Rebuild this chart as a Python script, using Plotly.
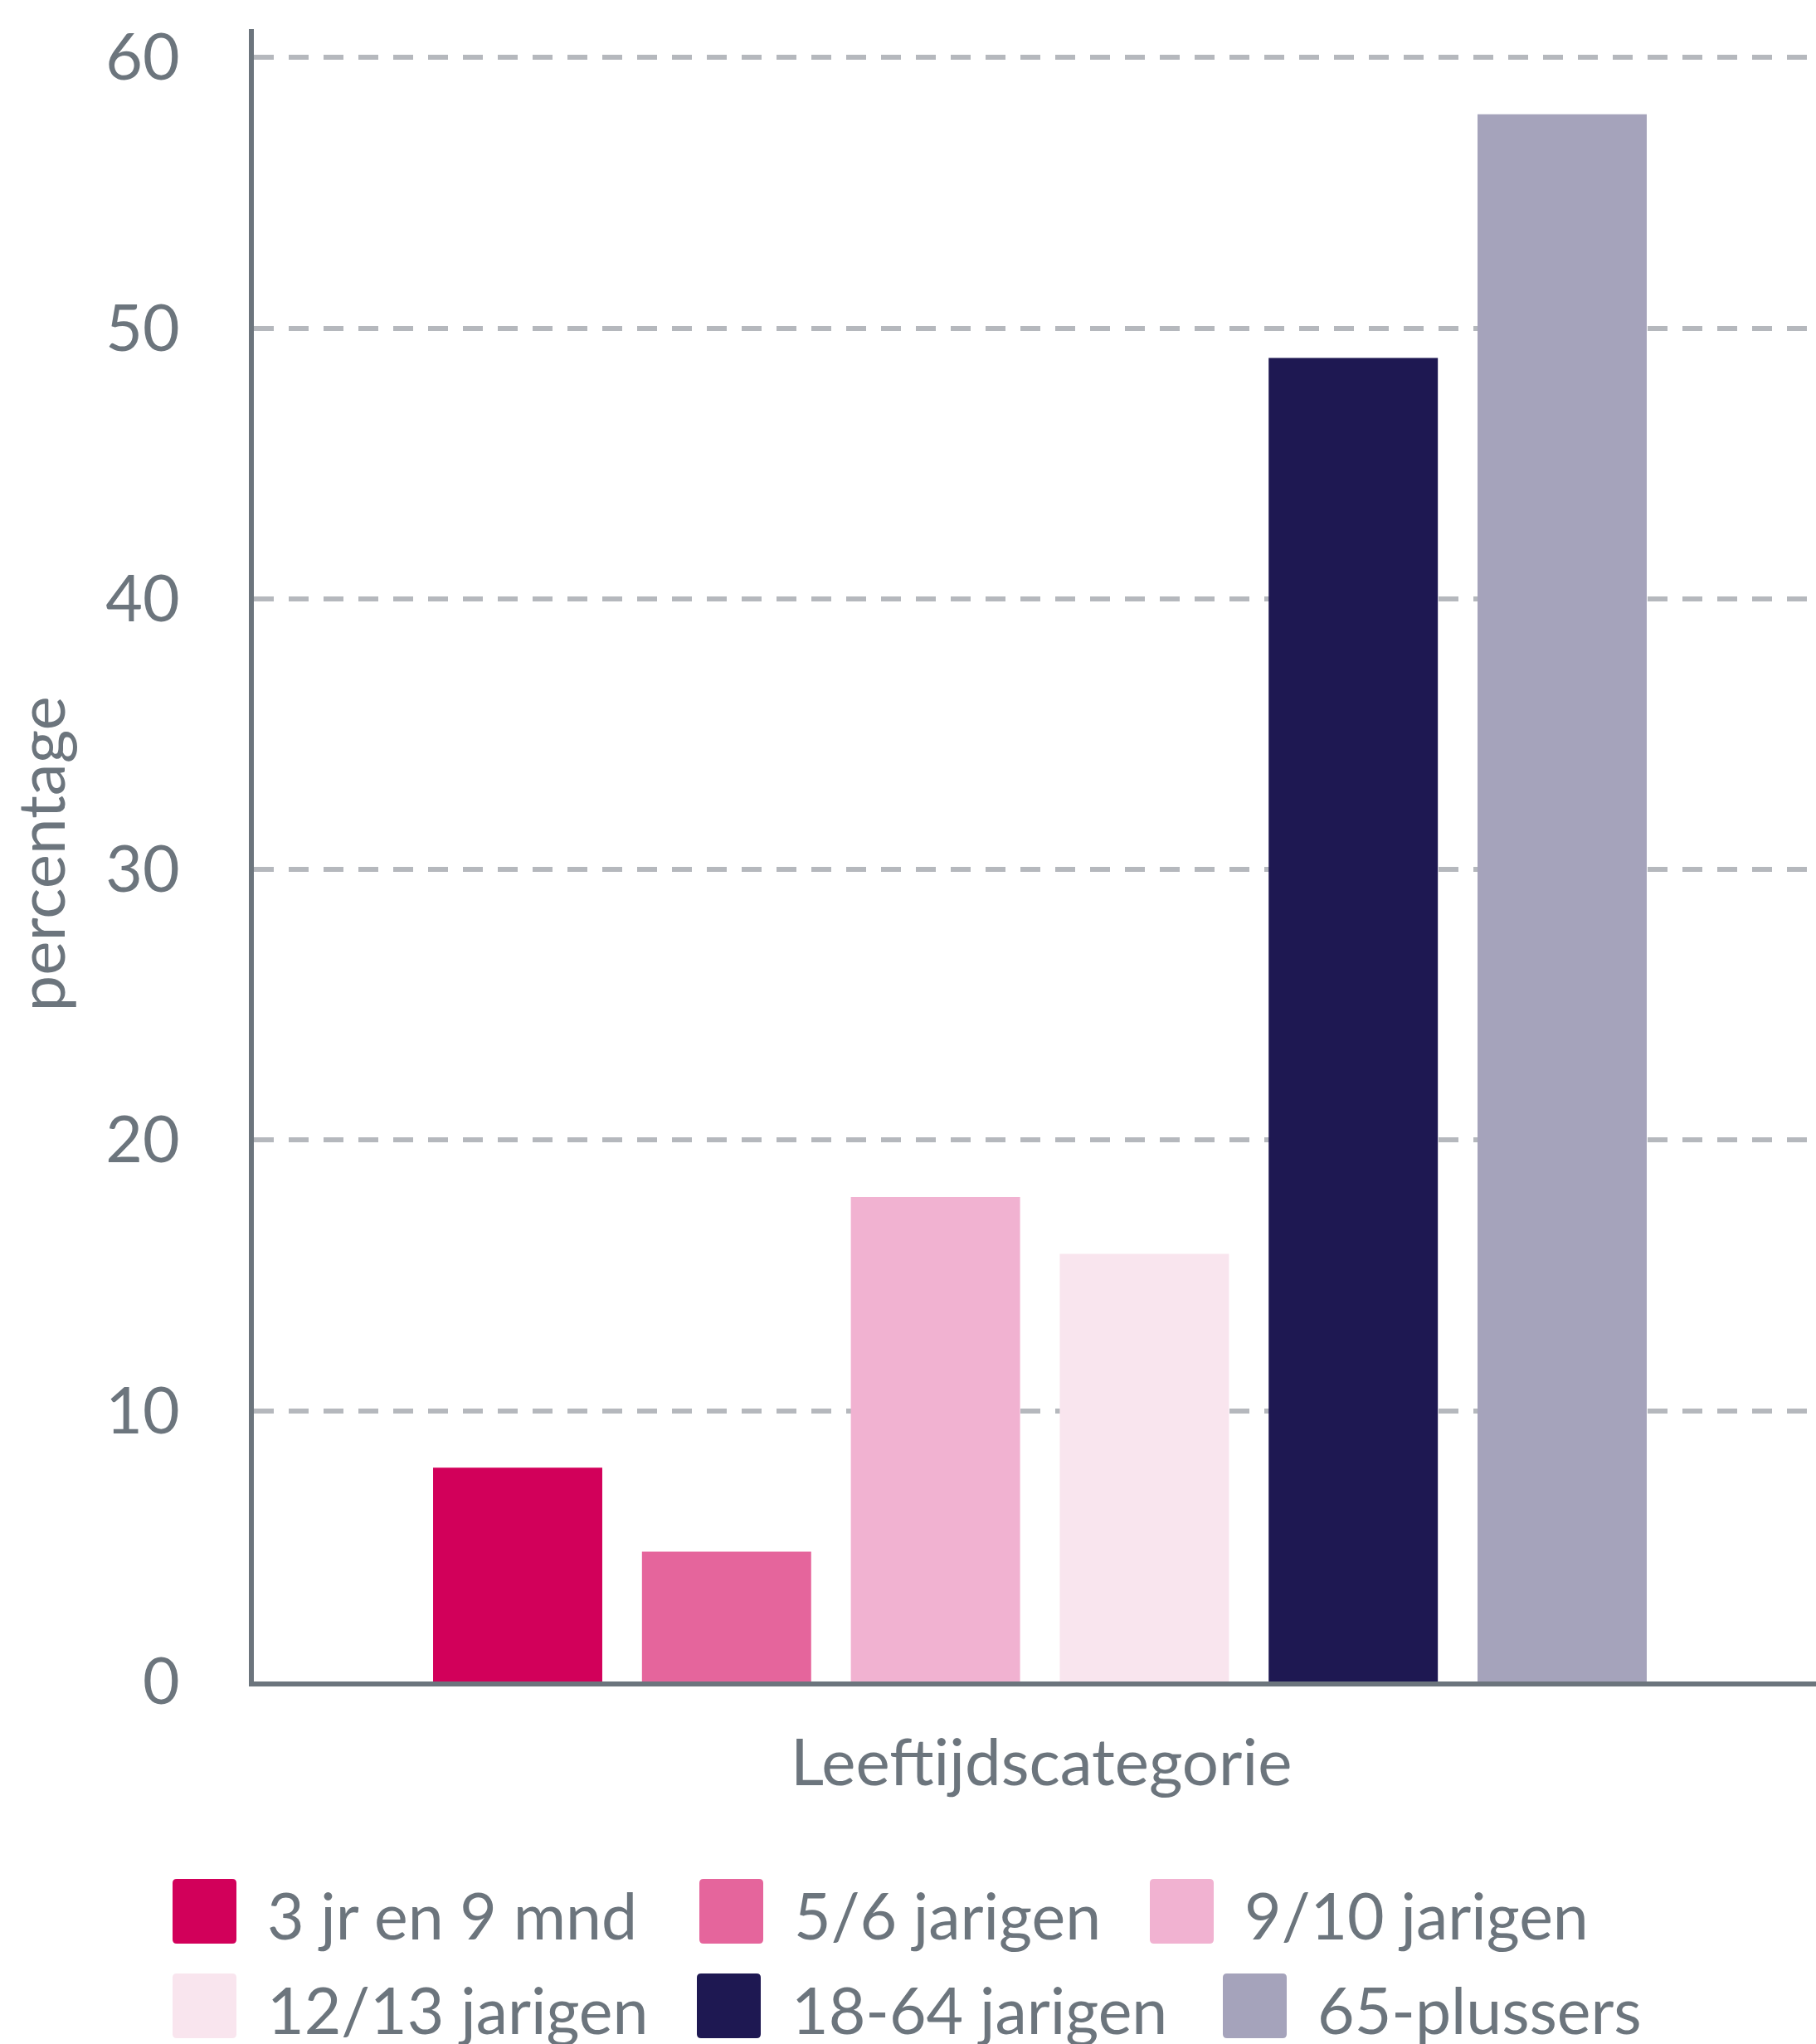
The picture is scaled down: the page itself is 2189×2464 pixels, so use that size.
import plotly.graph_objects as go

# ---- data -------------------------------------------------------------
categories = ["3 jr en 9 mnd", "5/6 jarigen", "9/10 jarigen",
              "12/13 jarigen", "18-64 jarigen", "65-plussers"]
values = [7.9, 4.8, 17.9, 15.8, 48.9, 57.9]
colors = ["#d2005a", "#e5659c", "#f1b2d1", "#f9e5ee", "#1e1852", "#a5a3bb"]
y_ticks = [0, 10, 20, 30, 40, 50, 60]
x_title = "Leeftijdscategorie"
y_title = "percentage"

# ---- layout constants -------------------------------------------------
W, H = 2189, 2464
ML, MR, MT, MB = 306, 0, 35, 437
PW = W - ML - MR
PH = H - MT - MB
TEXT = "#6c757d"
FONT = "Lato"


def pxx(x):
    return (x - ML) / PW


def pxy(y):
    return (H - MB - y) / PH


fig = go.Figure()
for name, v, c in zip(categories, values, colors):
    fig.add_trace(go.Bar(
        x=[x_title], y=[v], name=name,
        marker=dict(color=c, line=dict(width=0)),
        showlegend=False,
    ))

# custom legend (large swatches like the original)
legend_rows_x = [[208, 843, 1386], [208, 840, 1474]]
legend_rows_y = [2304, 2418]
SW, SH, TXT_OFF, RAD = 77, 78, 112, 5
shapes = []
annotations = []
i = 0
for row_x, cy in zip(legend_rows_x, legend_rows_y):
    for sx in row_x:
        x0, x1 = pxx(sx), pxx(sx + SW)
        y0, y1 = pxy(cy + SH / 2), pxy(cy - SH / 2)
        rx, ry = RAD / PW, RAD / PH
        path = (f"M{x0+rx},{y0} L{x1-rx},{y0} Q{x1},{y0} {x1},{y0+ry} "
                f"L{x1},{y1-ry} Q{x1},{y1} {x1-rx},{y1} L{x0+rx},{y1} "
                f"Q{x0},{y1} {x0},{y1-ry} L{x0},{y0+ry} Q{x0},{y0} {x0+rx},{y0} Z")
        shapes.append(dict(type="path", xref="paper", yref="paper", path=path,
                           fillcolor=colors[i], line=dict(width=0)))
        annotations.append(dict(
            text=categories[i], xref="paper", yref="paper",
            x=pxx(sx + TXT_OFF), y=pxy(cy + 4), xanchor="left", yanchor="middle",
            showarrow=False, font=dict(family=FONT, size=77, color=TEXT)))
        i += 1

annotations.append(dict(
    text=x_title, xref="paper", yref="paper", x=pxx(1255), y=pxy(2122),
    xanchor="center", yanchor="middle", showarrow=False,
    font=dict(family=FONT, size=78, color=TEXT)))
annotations.append(dict(
    text=y_title, xref="paper", yref="paper", x=pxx(47), y=pxy(1029.5),
    xanchor="center", yanchor="middle", textangle=-90, showarrow=False,
    font=dict(family=FONT, size=78, color=TEXT)))

fig.update_layout(
    width=W, height=H, autosize=False,
    margin=dict(l=ML, r=MR, t=MT, b=MB, pad=0),
    paper_bgcolor="white", plot_bgcolor="white",
    barmode="group", bargap=0, bargroupgap=0.19,
    font=dict(family=FONT, color=TEXT),
    showlegend=False,
    shapes=shapes, annotations=annotations,
)
fig.update_xaxes(
    type="category", range=[-0.62715, 0.61921],
    showticklabels=False, ticks="", showgrid=False, zeroline=False,
    showline=True, linecolor=TEXT, linewidth=6,
)
fig.update_yaxes(
    range=[0, 61.05], tickvals=y_ticks, ticktext=[str(t) for t in y_ticks],
    tickfont=dict(family=FONT, size=77, color=TEXT),
    ticks="", ticklabelstandoff=68,
    showgrid=True, gridcolor="#b5b8bd", gridwidth=6, griddash="24px,18px",
    zeroline=False, showline=True, linecolor=TEXT, linewidth=6,
)

fig.write_html("out.html", config={"displayModeBar": False},
               post_script="document.body.style.margin='0px';")
